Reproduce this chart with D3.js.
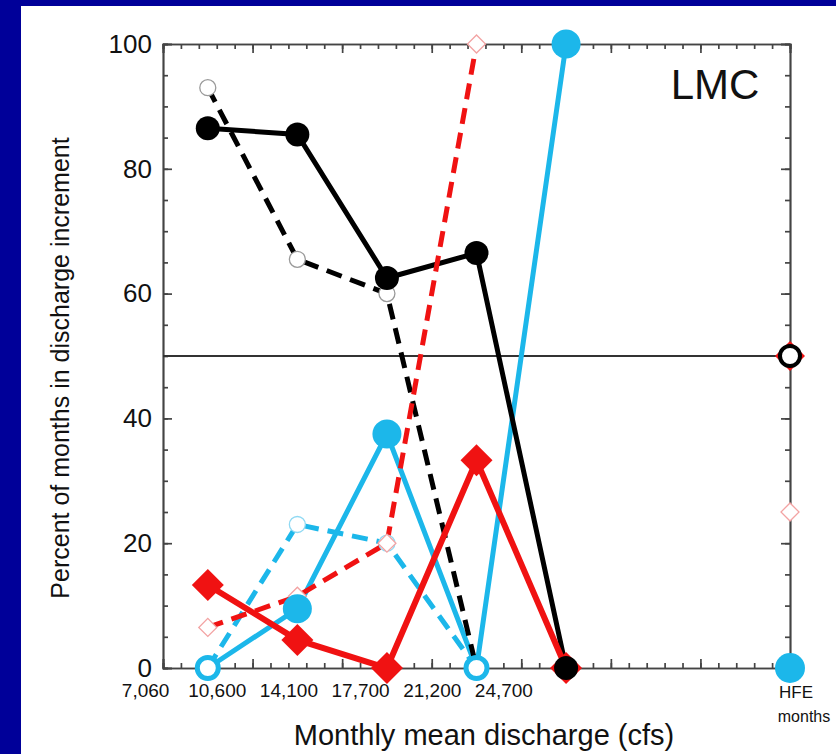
<html>
<head>
  <title>LMC discharge increments</title>
  <script src="https://d3js.org/d3.v7.min.js"></script>
  <meta charset="utf-8">
</head>

<style>
  body {
    margin: 0;
    background: #000099;
  }

  svg text {
    font-family: 'Liberation Sans', Arial, sans-serif;
    fill: #111;
  }

  .axis path,
  .axis line {
    fill: none;
    stroke: #444;
    stroke-width: 1.7;
  }
</style>

<body>
  <div class="chart"></div>

  <script>
    // bins of monthly mean discharge, plotted at bin centres (in minor tick units)
    var binCenters = [2.5, 7.5, 12.5, 17.5, 22.5];
    var hfeX = 35;

    var xTickPos = [-1, 3, 7, 11, 15, 19];
    var xTickLabels = ["7,060", "10,600", "14,100", "17,700", "21,200", "24,700"];
    var yTickValues = [0, 20, 40, 60, 80, 100];

    var blackSolid = [86.5, 85.5, 62.5, 66.5, 0];
    var blackDashed = [93, 65.5, 60, 0];
    var redSolid = [13.3, 4.5, 0, 33.3, 0];
    var redDashed = [6.5, 11.5, 20, 100];
    var cyanSolid = [0, 9.5, 37.5, 0, 100];
    var cyanDashed = [0, 23, 20, 0];

    // HFE month values
    var hfeBlack = 50;
    var hfeRed = 50;
    var hfeRedOpen = 25;
    var hfeCyan = 0;

    var refLine = 50;

    var W = 836, H = 754;
    var margin = {top: 44, right: 46, bottom: 86, left: 163};

    var svg = d3.select('.chart')
      .append('svg')
        .attr('width', W)
        .attr('height', H);

    // white panel
    svg.append("rect")
        .attr("x", 21).attr("y", 6)
        .attr("width", W - 21).attr("height", H - 6)
        .attr("fill", "#fff");

    var x = d3.scaleLinear().domain([0, 35]).range([margin.left, W - margin.right]);
    var y = d3.scaleLinear().domain([0, 100]).range([H - margin.bottom, margin.top]);

    var cyan = "#1cb7ea", red = "#f01212", pink = "#f3a3a3";
    var dash = "16,9";

    // frame ticks, all pointing inward
    function ticks(axis, vals, size) {
      return axis.tickValues(vals).tickSize(size).tickFormat("");
    }
    var minorX = d3.range(0, 36), majorX = d3.range(0, 36, 5);
    var minorY = d3.range(0, 101, 5), majorY = d3.range(0, 101, 20);

    svg.append("g").attr("class", "axis").attr("transform", "translate(0," + y(0) + ")")
        .call(ticks(d3.axisTop(x), minorX, 5));
    svg.append("g").attr("class", "axis").attr("transform", "translate(0," + y(0) + ")")
        .call(ticks(d3.axisTop(x), majorX, 9));
    svg.append("g").attr("class", "axis").attr("transform", "translate(0," + y(100) + ")")
        .call(ticks(d3.axisBottom(x), minorX, 5));
    svg.append("g").attr("class", "axis").attr("transform", "translate(0," + y(100) + ")")
        .call(ticks(d3.axisBottom(x), majorX, 9));
    svg.append("g").attr("class", "axis").attr("transform", "translate(" + x(0) + ",0)")
        .call(ticks(d3.axisRight(y), minorY, 5));
    svg.append("g").attr("class", "axis").attr("transform", "translate(" + x(0) + ",0)")
        .call(ticks(d3.axisRight(y), majorY, 9));
    svg.append("g").attr("class", "axis").attr("transform", "translate(" + x(35) + ",0)")
        .call(ticks(d3.axisLeft(y), minorY, 5));
    svg.append("g").attr("class", "axis").attr("transform", "translate(" + x(35) + ",0)")
        .call(ticks(d3.axisLeft(y), majorY, 9));

    // tick labels
    var yl = svg.append("g").attr("transform", "translate(" + x(0) + ",0)")
        .call(d3.axisLeft(y).tickValues(yTickValues).tickSize(0).tickPadding(11));
    yl.select(".domain").remove();
    yl.selectAll("text").style("font-size", "26px").attr("fill", "#111");

    var xl = svg.append("g").attr("transform", "translate(0," + y(0) + ")")
        .call(d3.axisBottom(x).tickValues(xTickPos).tickSize(0).tickPadding(16)
          .tickFormat(function(d, i) { return xTickLabels[i]; }));
    xl.select(".domain").remove();
    xl.selectAll("text").style("font-size", "19px").attr("fill", "#111");

    svg.append("text")
        .attr("x", x(hfeX) + 6).attr("y", 698)
        .style("text-anchor", "middle").style("font-size", "17px")
        .text("HFE");
    svg.append("text")
        .attr("x", x(hfeX) + 14).attr("y", 722)
        .style("text-anchor", "middle").style("font-size", "16px")
        .text("months");

    // axis titles
    svg.append("text")
        .attr("transform", "translate(69," + ((y(0) + y(100)) / 2 + 12) + ") rotate(-90)")
        .style("text-anchor", "middle")
        .style("font-size", "25px")
        .text("Percent of months in discharge increment");

    svg.append("text")
        .attr("x", 484).attr("y", 745)
        .style("text-anchor", "middle")
        .style("font-size", "29px")
        .text("Monthly mean discharge (cfs)");

    svg.append("text")
        .attr("x", 715).attr("y", 99)
        .style("text-anchor", "middle")
        .style("font-size", "42px")
        .text("LMC");

    // 50% reference line
    svg.append("line")
        .attr("x1", x(0)).attr("x2", x(35))
        .attr("y1", y(refLine)).attr("y2", y(refLine))
        .attr("stroke", "#333").attr("stroke-width", 1.8);

    var line = d3.line()
      .x(function(d, i) { return x(binCenters[i]); })
      .y(function(d) { return y(d); });

    function drawLine(vals, color, width, dashes) {
      svg.append("path")
          .datum(vals)
          .attr("d", line)
          .attr("fill", "none")
          .attr("stroke", color)
          .attr("stroke-width", width)
          .attr("stroke-dasharray", dashes || null);
    }

    drawLine(cyanDashed, cyan, 5, dash);
    drawLine(cyanSolid, cyan, 5);
    drawLine(blackDashed, "#000", 5, dash);
    drawLine(blackSolid, "#000", 5);
    drawLine(redSolid, red, 6);
    drawLine(redDashed, red, 5, dash);

    var diamond = d3.symbol().type(d3.symbolSquare);

    function diamonds(vals, xs, half, fill, stroke, sw) {
      svg.append("g").selectAll("path")
        .data(vals)
        .enter().append("path")
          .attr("transform", function(d, i) {
            return "translate(" + x(xs[i]) + "," + y(d) + ") rotate(45)";
          })
          .attr("d", diamond.size(half * half * 2))
          .attr("fill", fill)
          .attr("stroke", stroke)
          .attr("stroke-width", sw);
    }

    function circles(vals, xs, r, fill, stroke, sw) {
      svg.append("g").selectAll("circle")
        .data(vals)
        .enter().append("circle")
          .attr("cx", function(d, i) { return x(xs[i]); })
          .attr("cy", function(d) { return y(d); })
          .attr("r", r)
          .attr("fill", fill)
          .attr("stroke", stroke)
          .attr("stroke-width", sw);
    }

    // open markers for dashed series
    circles(blackDashed.filter(function(d) { return d > 0; }), binCenters, 8, "#fff", "#9a9a9a", 1.3);
    circles(cyanDashed.filter(function(d) { return d > 0; }), binCenters.slice(1), 8, "#fff", "#8fd9f3", 1.3);
    diamonds(redDashed, binCenters, 9, "#fff", pink, 1.3);

    // filled markers
    diamonds(redSolid, binCenters, 16, red, "none", 0);
    circles(blackSolid, binCenters, 12, "#000", "none", 0);

    // cyan: zero months drawn as open rings
    svg.append("g").selectAll("circle")
      .data(cyanSolid)
      .enter().append("circle")
        .attr("cx", function(d, i) { return x(binCenters[i]); })
        .attr("cy", function(d) { return y(d); })
        .attr("r", function(d) { return d === 0 ? 10.5 : 14.5; })
        .attr("fill", function(d) { return d === 0 ? "#fff" : cyan; })
        .attr("stroke", cyan)
        .attr("stroke-width", function(d) { return d === 0 ? 5 : 0; });

    // HFE months column
    diamonds([hfeRedOpen], [hfeX], 9, "#fff", pink, 1.3);
    diamonds([hfeRed], [hfeX], 15, red, "none", 0);
    circles([hfeBlack], [hfeX], 10, "#fff", "#000", 4);
    circles([hfeCyan], [hfeX], 15, cyan, "none", 0);
  </script>

</body>
</html>
